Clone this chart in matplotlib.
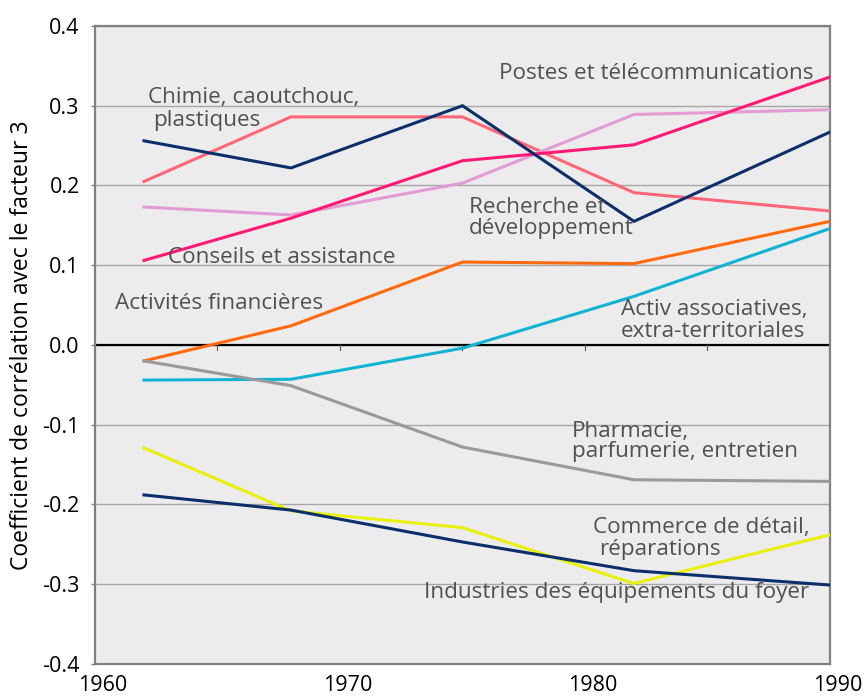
import matplotlib.pyplot as plt
import matplotlib.transforms as mtransforms
import numpy as np

plt.rcParams['font.family'] = ['Open Sans', 'DejaVu Sans']

years = [1962, 1968, 1975, 1982, 1990]

# correlation with factor 3, one series per sector
navy_top = [0.256, 0.222, 0.300, 0.155, 0.267]
salmon = [0.205, 0.286, 0.286, 0.191, 0.168]
lavender = [0.173, 0.163, 0.203, 0.289, 0.295]
hot_pink = [0.106, 0.159, 0.231, 0.251, 0.336]
orange = [-0.020, 0.024, 0.104, 0.102, 0.155]
cyan = [-0.044, -0.043, -0.004, 0.061, 0.146]
grey = [-0.020, -0.051, -0.128, -0.169, -0.171]
yellow = [-0.129, -0.208, -0.229, -0.299, -0.238]
navy_bottom = [-0.188, -0.207, -0.247, -0.283, -0.301]

series = [
    (salmon, '#ff6677'),
    (lavender, '#e39bd4'),
    (hot_pink, '#ff1a75'),
    (navy_top, '#0b2f6a'),
    (orange, '#ff6a0d'),
    (cyan, '#10b4d2'),
    (grey, '#9a9a9a'),
    (yellow, '#e9f00a'),
    (navy_bottom, '#0b2f6a'),
]

# free-floating sector names (x, y, text)
labels = [
    (1962.16, 0.310, 'Chimie, caoutchouc,'),
    (1962.37, 0.282, 'plastiques'),
    (1976.49, 0.340, 'Postes et télécommunications'),
    (1975.27, 0.173, 'Recherche et'),
    (1975.27, 0.146, 'développement'),
    (1962.98, 0.110, 'Conseils et assistance'),
    (1960.82, 0.052, 'Activités financières'),
    (1981.47, 0.044, 'Activ associatives,'),
    (1981.47, 0.017, 'extra-territoriales'),
    (1979.47, -0.108, 'Pharmacie,'),
    (1979.47, -0.134, 'parfumerie, entretien'),
    (1980.33, -0.229, 'Commerce de détail,'),
    (1980.57, -0.256, 'réparations'),
    (1973.43, -0.310, 'Industries des équipements du foyer'),
]

fig = plt.figure(figsize=(8.66, 6.98), dpi=100)
ax = fig.add_axes([0.1097, 0.0487, 0.8487, 0.9141])
ax.set_facecolor('#ececec')

ax.set_xlim(1960, 1990)
ax.set_ylim(-0.4, 0.4)
ax.set_yticks(np.arange(-0.4, 0.41, 0.1))
ax.set_yticklabels(['-0.4', '-0.3', '-0.2', '-0.1', '0.0', '0.1', '0.2', '0.3', '0.4'])
ax.set_xticks([1960, 1970, 1980, 1990])
ax.set_xticklabels(['1960', '1970', '1980', '1990'])

ax.grid(axis='y', color='#a6a6a6', linewidth=1.0)
ax.set_axisbelow(True)
ax.axhline(0, color='black', linewidth=1.6, zorder=2)

# small ticks along the zero line
for xt in [1965, 1970, 1975, 1980, 1985]:
    ax.plot([xt, xt], [0, -0.006], color='#555555', linewidth=0.8, zorder=2)

for vals, col in series:
    ax.plot(years, vals, color=col, linewidth=2.2, solid_joinstyle='miter', zorder=3)

for x, y, txt in labels:
    ax.text(x, y, txt, fontsize=16.2, color='#505050', ha='left', va='center', zorder=4)

for s in ax.spines.values():
    s.set_color('#808080')
    s.set_linewidth(1.6)

ax.tick_params(axis='y', length=3, width=1, color='#808080', labelsize=15.5, pad=8)
ax.tick_params(axis='x', length=0, labelsize=15.5, pad=8)
shift = mtransforms.ScaledTranslation(8 / 100, 0, fig.dpi_scale_trans)
for lab in ax.get_xticklabels():
    lab.set_transform(lab.get_transform() + shift)

ax.set_ylabel('Coefficient de corrélation avec le facteur 3', fontsize=16.5, labelpad=6)

fig.savefig('out.png', dpi=100)
